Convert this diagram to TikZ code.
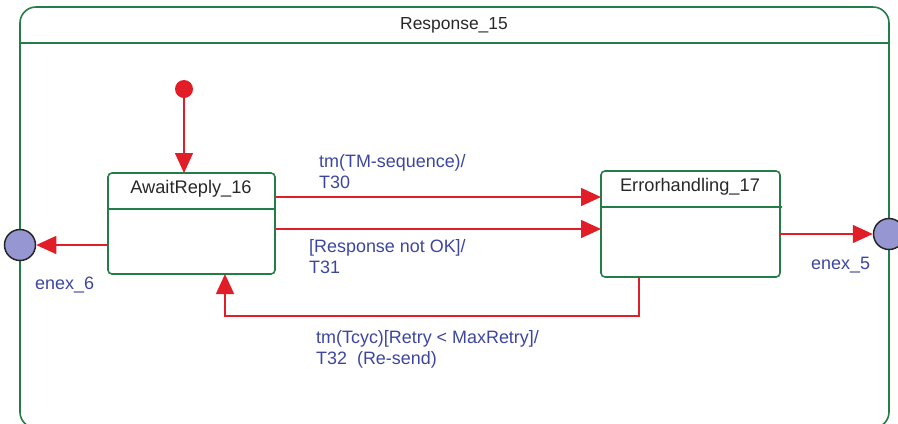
\documentclass[tikz,border=0pt]{standalone}
\usepackage{fontspec}
\setmainfont{Liberation Sans}
\usetikzlibrary{arrows.meta}
\definecolor{framegreen}{RGB}{35,125,70}
\definecolor{arrowred}{RGB}{225,30,40}
\definecolor{labelblue}{RGB}{60,70,160}
\definecolor{enexfill}{RGB}{150,150,210}
\definecolor{textgray}{RGB}{40,40,40}
\tikzset{
  frameline/.style={draw=framegreen, line width=1.6bp},
  statebox/.style={draw=framegreen, line width=1.6bp, rounded corners=4bp},
  trans/.style={draw=arrowred, line width=1.5bp, -{Triangle[length=20bp 0,width=18bp 0]}},
  lbl/.style={text=labelblue, font=\fontsize{18}{21}\selectfont, anchor=west, inner sep=0pt, align=left},
  stname/.style={text=textgray, font=\fontsize{18.3}{21}\selectfont, inner sep=0pt},
  enex/.style={circle, draw=black!85, line width=1.5bp, fill=enexfill, minimum size=31bp, inner sep=0pt},
}
\begin{document}
\begin{tikzpicture}[x=1bp,y=-1bp]
\useasboundingbox (0,0) rectangle (898,423);
\begin{scope}
\clip (0,0) rectangle (898,423);
% outer frame
\draw[frameline, rounded corners=16bp] (20,7) rectangle (889,428);
\draw[frameline] (20,43) -- (889,43);
\node[stname, font=\fontsize{17.5}{21}\selectfont] (title) at (454,25) {Response\_15};

% states
\draw[statebox] (108,173) rectangle (275,274);
\draw[frameline] (108,209) -- (276,209);
\node[stname] (aw) at (191,189) {AwaitReply\_16};
\coordinate (awN) at (184,173);
\coordinate (awE1) at (275,197);
\coordinate (awE2) at (275,229);
\coordinate (awW) at (108,245);
\coordinate (awS) at (225,274);

\draw[statebox] (601,171) rectangle (780,277);
\draw[frameline] (601,207) -- (782,207);
\node[stname] (eh) at (690,187) {Errorhandling\_17};
\coordinate (ehW1) at (601,197);
\coordinate (ehW2) at (601,229);
\coordinate (ehE) at (780,234);
\coordinate (ehS) at (639,277);

% initial
\node[circle, fill=arrowred, minimum size=18bp, inner sep=0pt] (init) at (184,89) {};

% entry/exit points
\node[enex] (enex6) at (20,245) {};
\node[enex] (enex5) at (889,234) {};
\node[lbl] (l6) at (35,285) {enex\_6};
\node[lbl] (l5) at (811,265) {enex\_5};

% transitions
\draw[trans] (init) -- (awN);
\draw[trans] (awE1) -- (ehW1);
\draw[trans] (awE2) -- (ehW2);
\draw[trans] (awW) -- (enex6);
\draw[trans] (ehE) -- (enex5);
\coordinate (c1) at (639,316);
\coordinate (c2) at (225,316);
\draw[trans] (ehS) -- (c1) -- (c2) -- (awS);

% labels
\node[lbl] (t30) at (319,172) {tm(TM-sequence)/\\T30};
\node[lbl] (t31) at (309,257) {[Response not OK]/\\T31};
\node[lbl] (t32) at (316,349) {tm(Tcyc)[Retry < MaxRetry]/\\T32\ \ (Re-send)};
\end{scope}
\end{tikzpicture}
\end{document}
